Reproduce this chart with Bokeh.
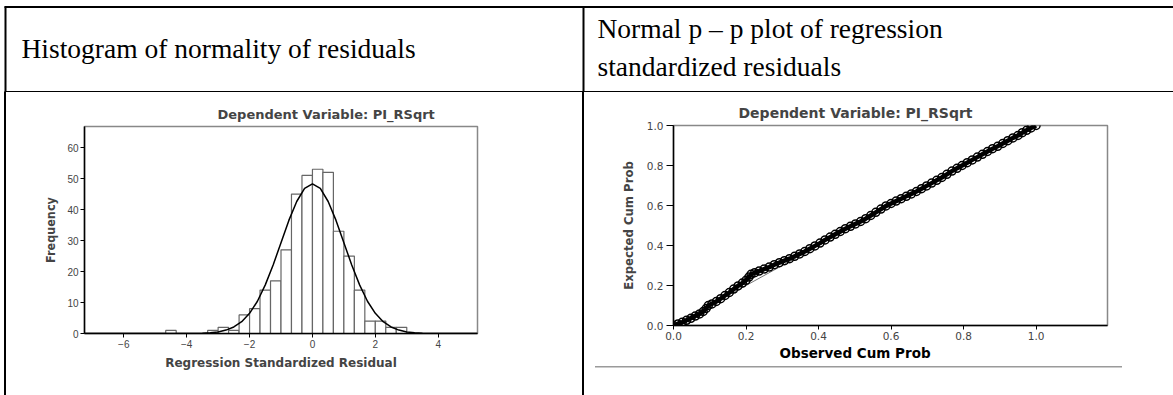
from bokeh.plotting import figure
from bokeh.layouts import row, column
from bokeh.models import Range1d, FixedTicker, Title, PrintfTickFormatter, Div
from bokeh.embed import file_html
from bokeh.resources import INLINE
from bokeh.core.properties import value

# ---------------- data ----------------
header_left = "Histogram of normality of residuals"
header_right = ["Normal p \u2013 p plot of regression", "standardized residuals"]
chart_title = "Dependent Variable: PI_RSqrt"

bin_start = [-4.667, -3.333, -3.0, -2.667, -2.333, -2.0, -1.667, -1.333, -1.0, -0.667,
             -0.333, 0.0, 0.333, 0.667, 1.0, 1.333, 1.667, 2.0, 2.333, 2.667]
bin_width = 0.3333
counts = [1, 1, 2, 1, 6, 8, 14, 17, 27, 45, 51, 53, 52, 33, 25, 14, 4, 4, 2, 2]

curve_x = [-7.25, -4.0, -3.75, -3.5, -3.25, -3.0, -2.75, -2.5, -2.25, -2.0, -1.75, -1.5,
           -1.25, -1.0, -0.75, -0.5, -0.25, 0.0, 0.25, 0.5, 0.75, 1.0, 1.25, 1.5, 1.75,
           2.0, 2.25, 2.5, 2.75, 3.0, 3.25, 3.5, 3.75, 4.0, 5.25]
curve_y = [0.0, 0.02, 0.04, 0.1, 0.25, 0.5, 1.1, 2.1, 3.8, 6.5, 10.4, 15.7, 22.1, 29.3,
           36.5, 42.6, 46.8, 48.3, 46.8, 42.6, 36.5, 29.3, 22.1, 15.7, 10.4, 6.5, 3.8,
           2.1, 1.1, 0.5, 0.25, 0.1, 0.04, 0.02, 0.0]

hist_xticks = [-6, -4, -2, 0, 2, 4]
hist_yticks = [0, 10, 20, 30, 40, 50, 60]

pp_obs = [0.000, 0.012, 0.024, 0.036, 0.048, 0.060, 0.072, 0.082, 0.090, 0.096,
          0.106, 0.118, 0.130, 0.142, 0.154, 0.166, 0.178, 0.190, 0.200, 0.208,
          0.214, 0.224, 0.236, 0.250, 0.264, 0.278, 0.292, 0.306, 0.320, 0.334,
          0.348, 0.362, 0.376, 0.390, 0.404, 0.418, 0.432, 0.446, 0.460, 0.474,
          0.488, 0.502, 0.516, 0.530, 0.544, 0.558, 0.572, 0.586, 0.600, 0.614,
          0.628, 0.642, 0.656, 0.670, 0.684, 0.698, 0.712, 0.726, 0.740, 0.754,
          0.768, 0.782, 0.796, 0.810, 0.824, 0.838, 0.852, 0.866, 0.880, 0.894,
          0.908, 0.922, 0.936, 0.950, 0.962, 0.974, 0.986, 1.000]
pp_exp = [0.000, 0.008, 0.016, 0.026, 0.036, 0.047, 0.058, 0.070, 0.085, 0.100,
          0.108, 0.120, 0.134, 0.150, 0.165, 0.182, 0.198, 0.212, 0.226, 0.242,
          0.256, 0.264, 0.272, 0.282, 0.292, 0.304, 0.314, 0.324, 0.334, 0.346,
          0.358, 0.370, 0.384, 0.398, 0.412, 0.428, 0.442, 0.456, 0.470, 0.484,
          0.496, 0.508, 0.520, 0.534, 0.550, 0.566, 0.582, 0.598, 0.610, 0.622,
          0.634, 0.646, 0.658, 0.670, 0.684, 0.698, 0.712, 0.726, 0.740, 0.756,
          0.772, 0.786, 0.800, 0.814, 0.828, 0.842, 0.856, 0.870, 0.884, 0.896,
          0.910, 0.924, 0.938, 0.950, 0.964, 0.976, 0.988, 1.000]
pp_diag = [0.0, 1.0]
pp_ticks = [0.0, 0.2, 0.4, 0.6, 0.8, 1.0]

# ---------------- header ----------------
hdr = figure(width=1173, height=92, x_range=Range1d(0, 1173), y_range=Range1d(92, 0),
             toolbar_location=None, output_backend="svg",
             x_axis_location=None, y_axis_location=None, min_border=0)
hdr.xgrid.visible = False
hdr.ygrid.visible = False
hdr.outline_line_color = None
hdr.segment(x0=[4, 4, 5, 583], y0=[6.5, 91.5, 6, 6],
            x1=[1173, 1173, 5, 583], y1=[6.5, 91.5, 92, 92],
            line_color="black", line_width=2)
hdr.text(x=[21], y=[48], text=[header_left], text_font=value("Liberation Serif"),
         text_font_size="27.5px", text_baseline="middle", text_color="black")
hdr.text(x=[597, 597], y=[28, 66], text=header_right, text_font=value("Liberation Serif"),
         text_font_size="27.5px", text_baseline="middle", text_color="black")

# ---------------- table borders (plain HTML boxes) ----------------
b1 = Div(text="", width=7, height=303, margin=0,
         styles={"background": "linear-gradient(90deg, #fff 4px, #000 4px, #000 6px, #fff 6px)"})
b2 = Div(text="", width=3, height=303, margin=0,
         styles={"background": "linear-gradient(90deg, #000 2px, #fff 2px)"})
strip = Div(text="", width=588, height=33, margin=0,
            styles={"background-image": "linear-gradient(#9a9a9a, #9a9a9a)",
                    "background-repeat": "no-repeat",
                    "background-size": "527px 1.5px",
                    "background-position": "10px 3.5px"})

TICK_FONT = "Liberation Sans"
BOLD_FONT = "DejaVu Sans"
NARROW_FONT = "DejaVu Sans Condensed, Liberation Sans"

# ---------------- histogram ----------------
hist = figure(width=575, height=303, x_range=Range1d(-7.25, 5.25), y_range=Range1d(0, 66.8),
              toolbar_location=None, output_backend="svg",
              min_border_left=77, min_border_right=105, min_border_top=34, min_border_bottom=62)
hist.quad(left=bin_start, right=[b + bin_width for b in bin_start], bottom=0, top=counts,
          fill_color="white", line_color="#666666", line_width=1.2)
hist.line(curve_x, curve_y, line_color="black", line_width=1.5)
hist.xgrid.visible = False
hist.ygrid.visible = False
hist.outline_line_color = "#888888"
hist.outline_line_width = 1.5
hist.xaxis.ticker = FixedTicker(ticks=hist_xticks)
hist.yaxis.ticker = FixedTicker(ticks=hist_yticks)
for ax in (hist.xaxis[0], hist.yaxis[0]):
    ax.axis_line_color = "black"
    ax.axis_line_width = 1.5
    ax.major_tick_line_color = "black"
    ax.major_tick_in = 0
    ax.major_tick_out = 4
    ax.minor_tick_line_color = None
    ax.major_label_text_font = TICK_FONT
    ax.major_label_text_font_size = "10px"
    ax.major_label_text_color = "#444444"
    ax.major_label_standoff = 2
hist.xaxis.axis_label = "Regression Standardized Residual"
hist.xaxis.axis_label_text_font = BOLD_FONT
hist.xaxis.axis_label_text_font_style = "bold"
hist.xaxis.axis_label_text_font_size = "12px"
hist.xaxis.axis_label_standoff = 5
hist.yaxis.axis_label = "Frequency"
hist.yaxis.axis_label_text_font = NARROW_FONT
hist.yaxis.axis_label_text_font_style = "bold"
hist.yaxis.axis_label_text_font_size = "12.5px"
hist.yaxis.axis_label_standoff = 6
hist.title.text = chart_title
hist.title.align = "left"
hist.title.offset = 133
hist.title.standoff = 10
hist.title.text_font = BOLD_FONT
hist.title.text_font_style = "bold"
hist.title.text_font_size = "13px"

# ---------------- P-P plot ----------------
pp = figure(width=588, height=270, x_range=Range1d(0, 1.197), y_range=Range1d(0, 1.0),
            toolbar_location=None, output_backend="svg",
            min_border_left=88, min_border_right=66, min_border_top=33, min_border_bottom=37)
pp.line(pp_diag, pp_diag, line_color="#777777", line_width=1)
pp.line(pp_obs, pp_exp, line_color="black", line_width=4.5)
pp.scatter(pp_obs, pp_exp, marker="circle", size=8, fill_alpha=0,
           line_color="black", line_width=1.5)
pp.xgrid.visible = False
pp.ygrid.visible = False
pp.outline_line_color = "#888888"
pp.outline_line_width = 1.5
for ax in (pp.xaxis[0], pp.yaxis[0]):
    ax.ticker = FixedTicker(ticks=pp_ticks)
    ax.formatter = PrintfTickFormatter(format="%.1f")
    ax.axis_line_color = "black"
    ax.axis_line_width = 1.5
    ax.major_tick_line_color = "black"
    ax.major_tick_in = 0
    ax.minor_tick_line_color = None
    ax.major_label_text_font = "DejaVu Sans"
    ax.major_label_text_font_size = "10.5px"
    ax.major_label_text_color = "#444444"
pp.xaxis.major_tick_out = 4
pp.xaxis.major_label_standoff = 2
pp.yaxis.major_tick_out = 7
pp.yaxis.major_label_standoff = 3
pp.yaxis.axis_label = "Expected Cum Prob"
pp.yaxis.axis_label_text_font = NARROW_FONT
pp.yaxis.axis_label_text_font_style = "bold"
pp.yaxis.axis_label_text_font_size = "13px"
pp.yaxis.axis_label_standoff = 8
pp.title.text = chart_title
pp.title.align = "left"
pp.title.offset = 65
pp.title.standoff = 10
pp.title.text_font = BOLD_FONT
pp.title.text_font_style = "bold"
pp.title.text_font_size = "14px"
pp.add_layout(Title(text="Observed Cum Prob", align="left", offset=106, standoff=1,
                    text_font=BOLD_FONT, text_font_style="bold", text_font_size="13.5px",
                    text_color="black"), "below")

layout = column(hdr, row(b1, hist, b2, column(pp, strip)))
open("out.html", "w").write(file_html(layout, INLINE))
